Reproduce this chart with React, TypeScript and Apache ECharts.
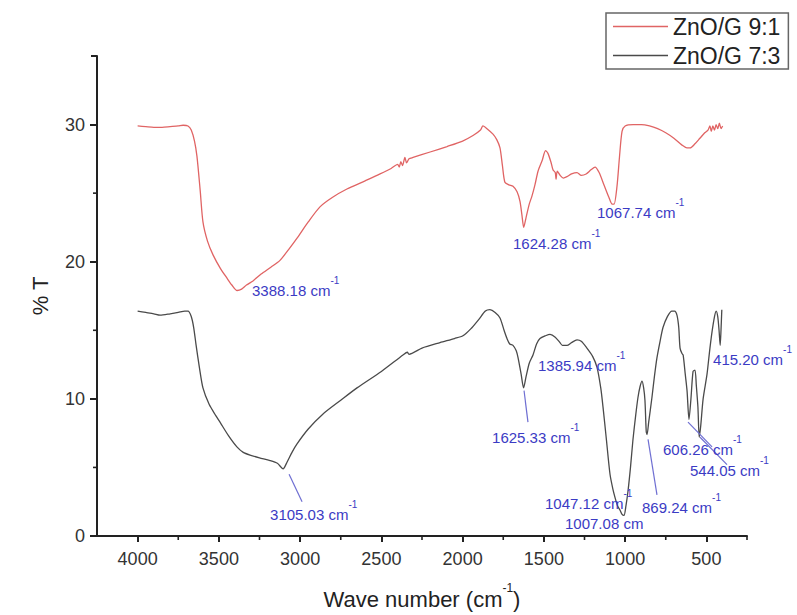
import React, { useEffect, useRef } from "react";
import * as echarts from "echarts";

const FONT = "'Liberation Sans', Arial, Helvetica, sans-serif";

const seriesNames = ["ZnO/G 9:1", "ZnO/G 7:3"];

// ZnO/G 9:1  [wave number, %T]
const spectrum91: [number, number][] = [
  [4000, 29.9], [3950, 29.85], [3900, 29.8], [3850, 29.8], [3800, 29.85], [3750, 29.9],
  [3720, 29.95], [3690, 29.9], [3670, 29.6], [3650, 28.8], [3635, 27.7], [3615, 25.2],
  [3598, 22.9], [3570, 21.5], [3536, 20.5], [3490, 19.5], [3450, 18.8], [3420, 18.3],
  [3388, 17.9], [3360, 18.0], [3330, 18.3], [3290, 18.6], [3240, 19.1], [3180, 19.6],
  [3124, 20.1], [3070, 20.9], [3020, 21.7], [2950, 22.9], [2878, 24.0], [2800, 24.7],
  [2712, 25.3], [2600, 25.9], [2508, 26.4], [2440, 26.8], [2400, 27.1], [2390, 26.9],
  [2380, 27.3], [2370, 27.0], [2355, 27.6], [2345, 27.2], [2330, 27.5], [2305, 27.6],
  [2200, 28.0], [2096, 28.4], [2000, 28.8], [1936, 29.2], [1890, 29.6], [1875, 29.9],
  [1850, 29.7], [1813, 29.3], [1790, 28.9], [1770, 28.3], [1755, 27.0], [1740, 25.8],
  [1715, 25.6], [1690, 25.5], [1665, 25.1], [1647, 24.4], [1635, 23.4], [1624, 22.5],
  [1610, 23.2], [1590, 24.2], [1573, 24.8], [1555, 25.6], [1536, 26.6], [1510, 27.4],
  [1490, 28.1], [1475, 27.9], [1455, 27.2], [1444, 26.7], [1430, 26.5], [1425, 26.0],
  [1418, 26.6], [1400, 26.3], [1380, 26.1], [1358, 26.2], [1330, 26.4], [1296, 26.5],
  [1270, 26.3], [1240, 26.4], [1210, 26.7], [1185, 26.9], [1160, 26.5], [1130, 25.6],
  [1100, 24.7], [1080, 24.2], [1068, 24.2], [1050, 25.5], [1035, 27.6], [1019, 29.5],
  [1000, 29.9], [950, 30.0], [900, 30.0], [850, 29.9], [800, 29.7], [750, 29.4],
  [700, 29.0], [650, 28.5], [620, 28.3], [600, 28.3], [570, 28.6], [540, 29.0],
  [510, 29.4], [490, 29.6], [478, 29.9], [470, 29.5], [460, 29.9], [450, 29.6],
  [440, 30.0], [430, 29.7], [420, 30.1], [410, 29.7], [400, 29.9],
];

// ZnO/G 7:3  [wave number, %T]
const spectrum73: [number, number][] = [
  [4000, 16.4], [3950, 16.3], [3900, 16.2], [3862, 16.1], [3800, 16.2], [3750, 16.3],
  [3710, 16.4], [3690, 16.4], [3670, 16.0], [3655, 15.2], [3640, 13.9], [3620, 12.3],
  [3598, 10.8], [3560, 9.6], [3520, 8.8], [3493, 8.3], [3440, 7.3], [3389, 6.5],
  [3350, 6.1], [3308, 5.9], [3250, 5.7], [3185, 5.5], [3140, 5.3], [3105, 4.9],
  [3080, 5.4], [3050, 6.1], [3020, 6.7], [2950, 7.8], [2859, 8.9], [2750, 9.9],
  [2650, 10.8], [2500, 12.0], [2367, 13.2], [2340, 13.4], [2330, 13.25], [2250, 13.7],
  [2139, 14.1], [2050, 14.4], [1998, 14.6], [1950, 15.1], [1900, 15.8], [1860, 16.4],
  [1832, 16.5], [1800, 16.3], [1770, 15.9], [1745, 15.0], [1727, 14.4], [1710, 14.0],
  [1690, 13.9], [1670, 13.5], [1659, 13.0], [1640, 11.8], [1625, 10.8], [1610, 11.6],
  [1590, 12.6], [1567, 13.2], [1545, 14.0], [1524, 14.4], [1490, 14.6], [1462, 14.7],
  [1430, 14.5], [1401, 14.1], [1386, 13.9], [1358, 13.9], [1330, 14.1], [1296, 14.3],
  [1270, 14.2], [1235, 13.7], [1200, 13.1], [1173, 12.3], [1150, 10.8], [1136, 9.4],
  [1115, 7.0], [1093, 4.5], [1075, 3.4], [1062, 2.8], [1047, 2.2], [1032, 1.9],
  [1020, 1.6], [1007, 1.5], [995, 2.2], [982, 3.3], [967, 5.0], [952, 7.0],
  [935, 8.8], [921, 10.1], [908, 10.9], [896, 11.3], [886, 10.8], [878, 9.9],
  [870, 7.6], [865, 7.4], [855, 8.3], [835, 10.1], [820, 11.6], [804, 13.0],
  [785, 14.2], [767, 15.2], [740, 16.0], [712, 16.4], [695, 16.4], [681, 16.1],
  [670, 15.2], [662, 13.7], [650, 13.3], [643, 13.2], [630, 11.8], [619, 10.6],
  [607, 8.5], [595, 10.0], [582, 12.0], [570, 12.1], [562, 11.0], [552, 9.4],
  [544, 7.2], [535, 8.0], [520, 10.0], [496, 11.8], [480, 13.5], [465, 14.9],
  [450, 16.0], [440, 16.4], [430, 16.0], [422, 15.0], [415, 13.9], [410, 15.0],
  [405, 16.5],
];

const X_MIN = 250;
const X_MAX = 4250;
const Y_MIN = 0;
const Y_MAX = 35;
const xTickValues = [4000, 3500, 3000, 2500, 2000, 1500, 1000, 500];
const xMinorTickValues = [3750, 3250, 2750, 2250, 1750, 1250, 750, 250];
const yTickValues = [0, 10, 20, 30];
const yMinorTickValues = [5, 15, 25];
const yEndTickValues = [35];

const peakLabels = [
  "3388.18", "1624.28", "1067.74", "3105.03", "1625.33", "1385.94",
  "1047.12", "1007.08", "869.24", "606.26", "544.05", "415.20",
];

// layout of the annotations, in data coordinates (left-middle of text)
const annotationLayout: { at: [number, number]; sup: boolean; leader?: [[number, number], [number, number]] }[] = [
  { at: [3296, 17.9], sup: true },
  { at: [1690, 21.3], sup: true },
  { at: [1173, 23.6], sup: true },
  { at: [3185, 1.6], sup: true, leader: [[3068, 4.5], [2988, 2.5]] },
  { at: [1819, 7.2], sup: true, leader: [[1622, 10.6], [1598, 8.3]] },
  { at: [1536, 12.4], sup: true },
  { at: [1493, 2.35], sup: true },
  { at: [1370, 0.9], sup: false },
  { at: [896, 2.1], sup: true, leader: [[859, 7.05], [804, 3.0]] },
  { at: [767, 6.3], sup: true, leader: [[613, 8.3], [465, 6.5]] },
  { at: [601, 4.8], sup: true, leader: [[539, 7.2], [373, 5.2]] },
  { at: [459, 12.9], sup: true },
];

const ANNOT_COLOR = "#3b3bc4";
const LEADER_COLOR = "#6f6fd2";
const RED = "#e06464";
const DARK = "#4a4a4a";
const AXIS = "#222";

export default function App() {
  const ref = useRef<HTMLDivElement>(null);

  useEffect(() => {
    if (!ref.current) return;
    const chart = echarts.init(ref.current, null, { renderer: "svg" });

    const option: any = {
      animation: false,
      backgroundColor: "#ffffff",
      textStyle: { fontFamily: FONT },
      grid: { left: 97, right: 50, top: 56, bottom: 76, containLabel: false },
      legend: {
        orient: "vertical",
        left: 606,
        top: 13,
        padding: [2, 8, 2, 7],
        itemGap: 6,
        itemWidth: 55,
        itemHeight: 1.6,
        icon: "rect",
        borderColor: "#666",
        borderWidth: 1.5,
        borderRadius: 0,
        textStyle: { fontSize: 23, color: "#222", fontFamily: FONT },
        data: seriesNames,
      },
      xAxis: {
        type: "value",
        min: X_MIN,
        max: X_MAX,
        inverse: true,
        position: "bottom",
        axisLine: { show: true, onZero: false, lineStyle: { color: AXIS, width: 2 } },
        axisTick: { show: true, length: 6, customValues: xTickValues, lineStyle: { color: AXIS, width: 2 } },
        axisLabel: {
          show: true,
          customValues: xTickValues,
          margin: 14,
          fontSize: 18,
          color: "#333",
          fontFamily: FONT,
          formatter: (v: number) => String(v),
        },
        splitLine: { show: false },
        name: "{a|Wave number (cm}{s|-1}{a|)}",
        nameLocation: "middle",
        nameGap: 46,
        nameTextStyle: {
          color: "#222",
          fontFamily: FONT,
          rich: {
            a: { fontSize: 22, lineHeight: 34, color: "#222", fontFamily: FONT },
            s: { fontSize: 12, verticalAlign: "top", color: "#222", fontFamily: FONT },
          },
        },
      },
      yAxis: {
        type: "value",
        min: Y_MIN,
        max: Y_MAX,
        position: "left",
        axisLine: { show: true, onZero: false, lineStyle: { color: AXIS, width: 2 } },
        axisTick: { show: true, length: 7, customValues: yTickValues, lineStyle: { color: AXIS, width: 2 } },
        axisLabel: {
          show: true,
          customValues: yTickValues,
          margin: 12,
          fontSize: 18,
          color: "#333",
          fontFamily: FONT,
          formatter: (v: number) => String(v),
        },
        splitLine: { show: false },
        name: "% T",
        nameLocation: "middle",
        nameRotate: 90,
        nameGap: 46,
        nameTextStyle: { fontSize: 22, color: "#222", fontFamily: FONT },
      },
      series: [
        {
          name: seriesNames[0],
          type: "line",
          data: spectrum91,
          symbol: "none",
          showSymbol: false,
          smooth: 0.25,
          lineStyle: { color: RED, width: 1.3 },
          itemStyle: { color: RED },
        },
        {
          name: seriesNames[1],
          type: "line",
          data: spectrum73,
          symbol: "none",
          showSymbol: false,
          smooth: 0.25,
          lineStyle: { color: DARK, width: 1.3 },
          itemStyle: { color: DARK },
        },
      ],
    };

    chart.setOption(option);

    const toPx = (p: [number, number]) => chart.convertToPixel({ seriesIndex: 0 }, p) as number[];
    const graphics: any[] = [];

    // minor ticks (x: downward, y: leftward) and the end tick at the top of the y axis
    xMinorTickValues.forEach((v) => {
      const p = toPx([v, Y_MIN]);
      graphics.push({
        type: "line",
        z: 40,
        shape: { x1: p[0], y1: p[1], x2: p[0], y2: p[1] + 4 },
        style: { stroke: AXIS, lineWidth: 1.6 },
      });
    });
    yMinorTickValues.forEach((v) => {
      const p = toPx([X_MAX, v]);
      graphics.push({
        type: "line",
        z: 40,
        shape: { x1: p[0] - 4, y1: p[1], x2: p[0], y2: p[1] },
        style: { stroke: AXIS, lineWidth: 1.6 },
      });
    });
    yEndTickValues.forEach((v) => {
      const p = toPx([X_MAX, v]);
      graphics.push({
        type: "line",
        z: 40,
        shape: { x1: p[0] - 6, y1: p[1], x2: p[0], y2: p[1] },
        style: { stroke: AXIS, lineWidth: 2 },
      });
    });

    annotationLayout.forEach((a, i) => {
      if (a.leader) {
        const p1 = toPx(a.leader[0]);
        const p2 = toPx(a.leader[1]);
        graphics.push({
          type: "line",
          z: 50,
          shape: { x1: p1[0], y1: p1[1], x2: p2[0], y2: p2[1] },
          style: { stroke: LEADER_COLOR, lineWidth: 1.2 },
        });
      }
      const p = toPx(a.at);
      graphics.push({
        type: "text",
        z: 60,
        x: p[0],
        y: p[1],
        style: {
          text: a.sup ? `{m|${peakLabels[i]} cm}{s|-1}` : `{m|${peakLabels[i]} cm}`,
          align: "left",
          verticalAlign: "middle",
          textAlign: "left",
          textVerticalAlign: "middle",
          fill: ANNOT_COLOR,
          rich: {
            m: { fontSize: 15, lineHeight: 30, fill: ANNOT_COLOR, color: ANNOT_COLOR, fontFamily: FONT },
            s: { fontSize: 10, verticalAlign: "top", fill: ANNOT_COLOR, color: ANNOT_COLOR, fontFamily: FONT },
          },
        },
      });
    });
    chart.setOption({ graphic: graphics });

    return () => {
      chart.dispose();
    };
  }, []);

  return (
    <div
      ref={ref}
      style={{ position: "fixed", left: 0, top: 0, width: 797, height: 615, background: "#fff" }}
    />
  );
}
